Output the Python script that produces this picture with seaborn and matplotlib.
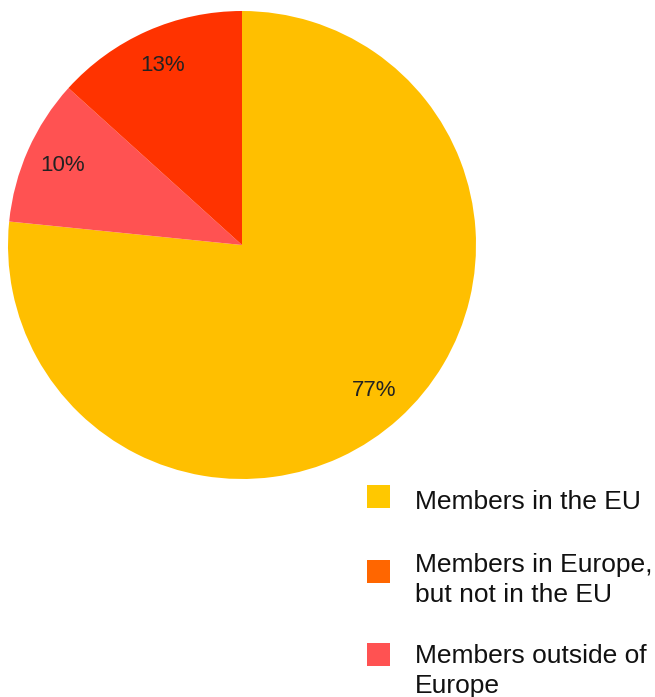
import matplotlib
matplotlib.use("Agg")
import matplotlib.pyplot as plt
from matplotlib.patches import Rectangle
import seaborn as sns

# ---- data ----
slice_names = ["Members in the EU", "Members outside of Europe", "Members in Europe, but not in the EU"]
slice_values = [76.6, 10.1, 13.3]
slice_colors = ["#FFBF00", "#FF5252", "#FF3300"]

legend_labels = ["Members in the EU", "Members in Europe,\nbut not in the EU", "Members outside of\nEurope"]
legend_colors = ["#FFC800", "#FF6600", "#FF5252"]

sns.set_theme(style="white")
plt.rcParams["font.family"] = ["Liberation Sans", "DejaVu Sans"]

W, H, DPI = 655, 697, 100
fig = plt.figure(figsize=(W / DPI, H / DPI), dpi=DPI)
fig.patch.set_facecolor("white")

cx, cy, r = 242, 245, 234
ax = fig.add_axes([(cx - r) / W, (H - cy - r) / H, 2 * r / W, 2 * r / H])
wedges, texts, autotexts = ax.pie(
    slice_values,
    colors=slice_colors,
    startangle=90,
    counterclock=False,
    radius=1.0,
    autopct="%.0f%%",
    pctdistance=0.84,
    wedgeprops=dict(linewidth=0),
    textprops=dict(fontsize=16, color="#222222"),
)
ax.set_xlim(-1, 1)
ax.set_ylim(-1, 1)
ax.set_aspect("equal")
ax.axis("off")

# ---- legend (manual, matching the reference layout) ----
sq = 23
sq_x = 367
sq_centers = [496, 571.3, 654.2]
first_baselines = [509.3, 571.7, 663.3]
line_gap = 30
text_x = 415
for lab, col, yc, yb in zip(legend_labels, legend_colors, sq_centers, first_baselines):
    fig.patches.append(Rectangle((sq_x / W, (H - yc - sq / 2) / H), sq / W, sq / H,
                                 transform=fig.transFigure, facecolor=col,
                                 edgecolor="none", figure=fig))
    for i, line in enumerate(lab.split("\n")):
        fig.text(text_x / W, (H - (yb + i * line_gap)) / H, line, fontsize=19,
                 color="#111111", ha="left", va="baseline")

fig.savefig("out.png", dpi=DPI, facecolor="white")
